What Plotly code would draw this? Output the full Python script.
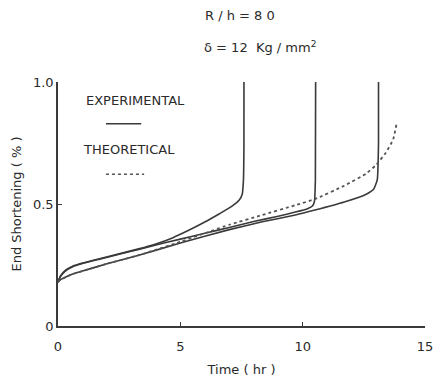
import plotly.graph_objects as go

# Experimental curves (time hr, end shortening %)
exp1_t = [0, 0.1, 0.3, 0.6, 1.0, 1.7, 2.5, 3.3, 4.0, 4.7, 5.3, 6.0, 6.6, 7.1, 7.4, 7.53, 7.58, 7.6, 7.6]
exp1_y = [0.18, 0.205, 0.228, 0.245, 0.258, 0.276, 0.296, 0.316, 0.336, 0.362, 0.39, 0.426, 0.46, 0.49, 0.515, 0.54, 0.6, 0.75, 1.0]

exp2_t = [0, 0.1, 0.3, 0.6, 1.0, 1.7, 2.5, 3.3, 4.0, 5.0, 6.0, 7.0, 8.0, 9.0, 9.7, 10.2, 10.4, 10.48, 10.52, 10.53]
exp2_y = [0.18, 0.203, 0.225, 0.243, 0.256, 0.274, 0.294, 0.314, 0.332, 0.356, 0.38, 0.404, 0.428, 0.45, 0.467, 0.481, 0.492, 0.51, 0.6, 1.0]

exp3_t = [0, 0.1, 0.3, 0.6, 1.0, 2.0, 3.3, 5.0, 7.0, 8.35, 9.7, 10.5, 11.7, 12.6, 12.9, 13.05, 13.1, 13.1]
exp3_y = [0.18, 0.19, 0.2, 0.213, 0.225, 0.255, 0.29, 0.34, 0.395, 0.427, 0.455, 0.475, 0.508, 0.54, 0.56, 0.6, 0.75, 1.0]

theo_t = [0, 0.1, 0.3, 0.6, 1.0, 2.0, 3.3, 5.0, 7.0, 8.35, 9.7, 10.5, 11.7, 12.6, 13.0, 13.4, 13.7, 13.84]
theo_y = [0.18, 0.19, 0.2, 0.213, 0.225, 0.255, 0.29, 0.345, 0.415, 0.455, 0.495, 0.52, 0.575, 0.625, 0.66, 0.71, 0.765, 0.83]

x_ticks = [0, 5, 10, 15]
x_labels = ["0", "5", "10", "15"]
y_ticks = [0, 0.5, 1.0]
y_labels = ["0", "0.5", "1.0"]

line_col = "#3a3a3a"
text_col = "#2a2a2a"
font = "DejaVu Sans"

L, R, T, B = 58, 9, 82, 56
W, H = 442, 384
pw, ph = W - L - R, H - T - B


def px2paper(x, y):
    return (x - L) / pw, (H - B - y) / ph


fig = go.Figure()
for t, y in [(exp1_t, exp1_y), (exp2_t, exp2_y), (exp3_t, exp3_y)]:
    fig.add_trace(go.Scatter(x=t, y=y, mode="lines",
                             line=dict(color=line_col, width=1.6, shape="spline", smoothing=0.4),
                             showlegend=False, hoverinfo="skip"))
fig.add_trace(go.Scatter(x=theo_t, y=theo_y, mode="lines",
                         line=dict(color="#555555", width=1.8, dash="dot", shape="spline", smoothing=0.4),
                         showlegend=False, hoverinfo="skip"))

fig.update_layout(
    width=W, height=H,
    margin=dict(l=L, r=R, t=T, b=B),
    paper_bgcolor="white", plot_bgcolor="white",
    font=dict(family=font, size=12, color=text_col),
    xaxis=dict(range=[0, 15], tickvals=x_ticks, ticktext=x_labels, showgrid=False, zeroline=False,
               showline=True, linecolor=line_col, linewidth=1.5, ticks="inside", ticklen=4,
               tickcolor=line_col, tickfont=dict(size=13), ticklabelstandoff=8,
               title=dict(text="Time ( hr )", font=dict(size=13), standoff=12)),
    yaxis=dict(range=[0, 1.0], tickvals=y_ticks, ticktext=y_labels, showgrid=False, zeroline=False,
               showline=True, linecolor=line_col, linewidth=1.5, ticks="inside", ticklen=4,
               tickcolor=line_col, tickfont=dict(size=13),
               title=dict(text="End Shortening ( % )", font=dict(size=13), standoff=8)),
)

texts = [
    ("R / h = 8 0", 244, 15, 13),
    ("δ = 12  Kg / mm<sup>2</sup>", 264, 47, 13),
    ("EXPERIMENTAL", 137, 101, 13),
    ("THEORETICAL", 131, 150, 13),
]
for txt, x, y, s in texts:
    xp, yp = px2paper(x, y)
    fig.add_annotation(text=txt, x=xp, y=yp, xref="paper", yref="paper", showarrow=False,
                       font=dict(size=s, color=text_col, family=font), xanchor="center", yanchor="middle")

# legend sample lines
x0, y0 = px2paper(107, 124)
x1, _ = px2paper(143, 124)
fig.add_shape(type="line", xref="paper", yref="paper", x0=x0, x1=x1, y0=y0, y1=y0,
              line=dict(color=line_col, width=1.5))
x0, y0 = px2paper(107, 175)
x1, _ = px2paper(146, 175)
fig.add_shape(type="line", xref="paper", yref="paper", x0=x0, x1=x1, y0=y0, y1=y0,
              line=dict(color="#555555", width=1.5, dash="dot"))

fig.write_html("out.html")
